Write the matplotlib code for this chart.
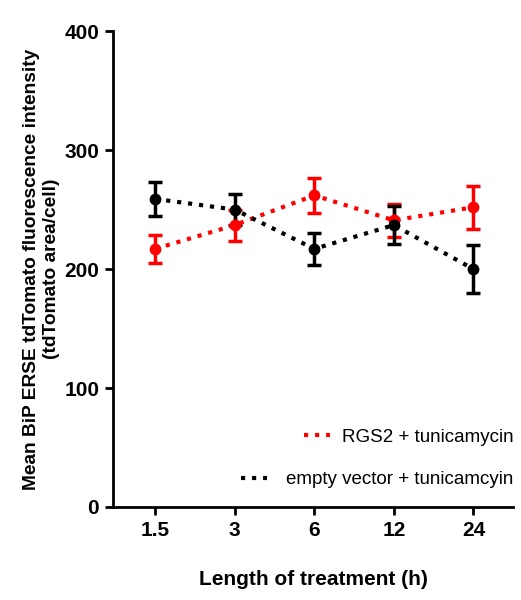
import matplotlib
matplotlib.use('Agg')
from matplotlib import pyplot as plt
from matplotlib.lines import Line2D

times = ['1.5', '3', '6', '12', '24']
rgs2_mean = [217, 237, 262, 241, 252]
rgs2_err = [12, 13, 15, 14, 18]
empty_mean = [259, 250, 217, 237, 200]
empty_err = [14, 13, 13.5, 16, 20]

plt.rcParams['font.family'] = ['Liberation Sans', 'DejaVu Sans']

fig = plt.figure(figsize=(5.21, 6), dpi=100)
ax = fig.add_axes([0.217, 0.155, 0.768, 0.793])
xs = list(range(len(times)))

ax.errorbar(xs, rgs2_mean, yerr=rgs2_err, color='#ff0000', linestyle=':', linewidth=3,
            marker='o', markersize=7.5, capsize=5, capthick=2.5, elinewidth=2.5)
ax.errorbar(xs, empty_mean, yerr=empty_err, color='black', linestyle=':', linewidth=3,
            marker='o', markersize=7.5, capsize=5, capthick=2.5, elinewidth=2.5)

ax.set_ylim(0, 400)
ax.set_xlim(-0.53, 4.5)
ax.set_yticks([0, 100, 200, 300, 400])
ax.set_xticks(xs)
ax.set_xticklabels(times)
for lab in ax.get_xticklabels() + ax.get_yticklabels():
    lab.set_fontweight('bold')
    lab.set_fontsize(15)
ax.tick_params(direction='out', length=6, width=2, pad=4)
for s in ['top', 'right']:
    ax.spines[s].set_visible(False)
for s in ['left', 'bottom']:
    ax.spines[s].set_linewidth(2)

ax.set_xlabel('Length of treatment (h)', fontsize=15, fontweight='bold', labelpad=22)
ax.set_ylabel('Mean BiP ERSE tdTomato fluorescence intensity\n(tdTomato area/cell)',
              fontsize=13.8, fontweight='bold', labelpad=3)

# two separate legend entries, both right aligned like the original
leg1 = ax.legend([Line2D([], [], color='#ff0000', linestyle=':', linewidth=3)],
                 ['RGS2 + tunicamycin'], loc='center right', frameon=False,
                 fontsize=13.5, handlelength=1.4, handletextpad=0.6,
                 borderpad=0, borderaxespad=0, bbox_to_anchor=(1.0, 0.147))
ax.add_artist(leg1)
ax.legend([Line2D([], [], color='black', linestyle=':', linewidth=3)],
          ['empty vector + tunicamcyin'], loc='center right', frameon=False,
          fontsize=13.5, handlelength=1.4, handletextpad=1.0,
          borderpad=0, borderaxespad=0, bbox_to_anchor=(1.0, 0.057))

fig.savefig('out.png', dpi=100)
